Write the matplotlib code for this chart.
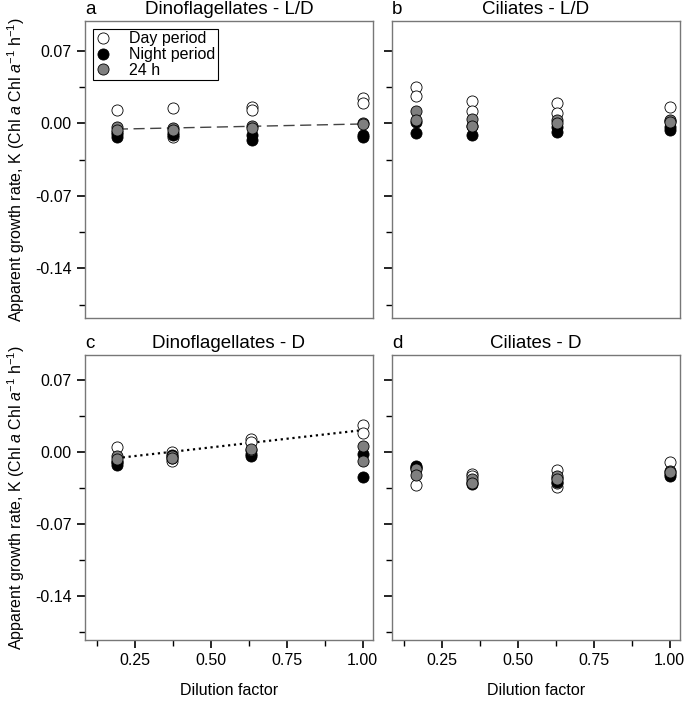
import matplotlib
matplotlib.use('Agg')
import matplotlib.pyplot as plt
from matplotlib.lines import Line2D
from matplotlib.ticker import MultipleLocator, FormatStrFormatter

plt.rcParams['font.family'] = ['Liberation Sans', 'DejaVu Sans']
plt.rcParams['mathtext.fontset'] = 'custom'
plt.rcParams['mathtext.rm'] = 'Liberation Sans'
plt.rcParams['mathtext.it'] = 'Liberation Sans:italic'

# dilution levels per panel
dil_a = [0.19, 0.375, 0.635, 1.0]
dil_b = [0.165, 0.347, 0.63, 1.0]
dil_c = [0.19, 0.373, 0.632, 1.0]
dil_d = [0.165, 0.347, 0.63, 1.0]

# apparent growth rates, one inner list per dilution
day_a = [[0.013, -0.008], [0.015, -0.013], [0.016, 0.013], [0.025, 0.020]]
night_a = [[-0.010, -0.013], [-0.009, -0.011], [-0.011, -0.016], [-0.011, -0.013]]
h24_a = [[-0.003, -0.006], [-0.004, -0.006], [-0.002, -0.004], [0.0005, -0.001]]

day_b = [[0.035, 0.027], [0.022, 0.012], [0.020, 0.010], [0.016, 0.002]]
night_b = [[0.001, -0.009], [-0.002, -0.011], [-0.003, -0.0085], [-0.0035, -0.0065]]
h24_b = [[0.012, 0.0036], [0.0043, -0.0023], [0.0032, 0.0], [0.0036, 0.001]]

day_c = [[0.0042, -0.010], [0.0, -0.0087], [0.0123, 0.009], [0.026, 0.018]]
night_c = [[-0.0104, -0.013], [-0.003, -0.006], [-0.0039, -0.002], [-0.0023, -0.025]]
h24_c = [[-0.0039, -0.0075], [-0.0045, -0.006], [0.002, 0.003], [0.0052, -0.0087]]

day_d = [[-0.0324, -0.015], [-0.0217, -0.024], [-0.0175, -0.034, -0.030], [-0.0104]]
night_d = [[-0.0143, -0.016], [-0.0314, -0.029], [-0.029, -0.026], [-0.024, -0.022]]
h24_d = [[-0.017, -0.0227], [-0.0266, -0.030], [-0.0233, -0.027], [-0.0185, -0.020]]

# regression lines (24 h)
fit_a_x = [0.19, 1.0]
fit_a_y = [-0.0055, -0.0005]
fit_c_x = [0.19, 1.0]
fit_c_y = [-0.0062, 0.021]

titles = ['Dinoflagellates - L/D', 'Ciliates - L/D', 'Dinoflagellates - D', 'Ciliates - D']
letters = ['a', 'b', 'c', 'd']

W, H = 685, 702
fig = plt.figure(figsize=(W / 100, H / 100), dpi=100)

def box(l, t, r, b):
    return [l / W, 1 - b / H, (r - l) / W, (b - t) / H]

pos = [box(85, 21, 373, 318), box(392, 21, 680, 318),
       box(85, 355, 373, 640), box(392, 355, 680, 640)]
ylims = [(-0.188, 0.099), (-0.188, 0.099), (-0.183, 0.094), (-0.183, 0.094)]
axes = [fig.add_axes(p) for p in pos]

panels = [
    (dil_a, day_a, night_a, h24_a),
    (dil_b, day_b, night_b, h24_b),
    (dil_c, day_c, night_c, h24_c),
    (dil_d, day_d, night_d, h24_d),
]

styles = [('white', 'Day period'), ('black', 'Night period'), ('#7f7f7f', '24 h')]

def flat(dil, vals):
    xs, ys = [], []
    for x, vs in zip(dil, vals):
        for v in vs:
            xs.append(x)
            ys.append(v)
    return xs, ys

for i, ax in enumerate(axes):
    dil = panels[i][0]
    for series, (col, lab) in zip(panels[i][1:], styles):
        xs, ys = flat(dil, series)
        ax.plot(xs, ys, 'o', ms=8, mfc=col, mec='black', mew=0.6, zorder=3)
    ax.set_xlim(0.085, 1.034)
    ax.set_ylim(*ylims[i])
    ax.yaxis.set_major_locator(MultipleLocator(0.07))
    ax.yaxis.set_minor_locator(MultipleLocator(0.035))
    ax.xaxis.set_major_locator(MultipleLocator(0.25))
    ax.xaxis.set_minor_locator(MultipleLocator(0.125))
    ax.tick_params(which='both', direction='out', labelsize=11.5, color='black')
    ax.tick_params(which='major', length=6, width=1.2)
    ax.tick_params(which='minor', length=4, width=1)
    for s in ax.spines.values():
        s.set_color('#777777')
        s.set_linewidth(1)
    ax.set_title(titles[i], fontsize=13.5, pad=5)
    ax.set_title(letters[i], loc='left', fontsize=13.5, pad=5)
    if i % 2 == 0:
        ax.yaxis.set_major_formatter(FormatStrFormatter('%.2f'))
        ax.set_ylabel(r'Apparent growth rate, K (Chl $\mathit{a}$ Chl $\mathit{a}^{-1}$ h$^{-1}$)',
                      fontsize=11.5, labelpad=6)
    else:
        ax.set_yticklabels([])
    if i >= 2:
        ax.xaxis.set_major_formatter(FormatStrFormatter('%.2f'))
        ax.set_xlabel('Dilution factor', fontsize=11.5, labelpad=11)
    else:
        ax.tick_params(axis='x', which='both', bottom=False, labelbottom=False)

axes[0].plot(fit_a_x, fit_a_y, color='#444444', lw=1, dashes=(8, 4), zorder=2)
axes[2].plot(fit_c_x, fit_c_y, color='black', lw=1.6, ls=':', zorder=2)

handles = [Line2D([], [], ls='none', marker='o', ms=8, mfc=c, mec='black', mew=0.6) for c, _ in styles]
leg = axes[0].legend(handles, [l for _, l in styles], loc='upper left', fontsize=11.5,
                     frameon=True, fancybox=False, edgecolor='black', framealpha=1,
                     handlelength=1.0, handletextpad=1.1, labelspacing=0.05,
                     borderpad=0.15, borderaxespad=0.5)
leg.get_frame().set_linewidth(0.8)

fig.savefig('out.png', dpi=100)
